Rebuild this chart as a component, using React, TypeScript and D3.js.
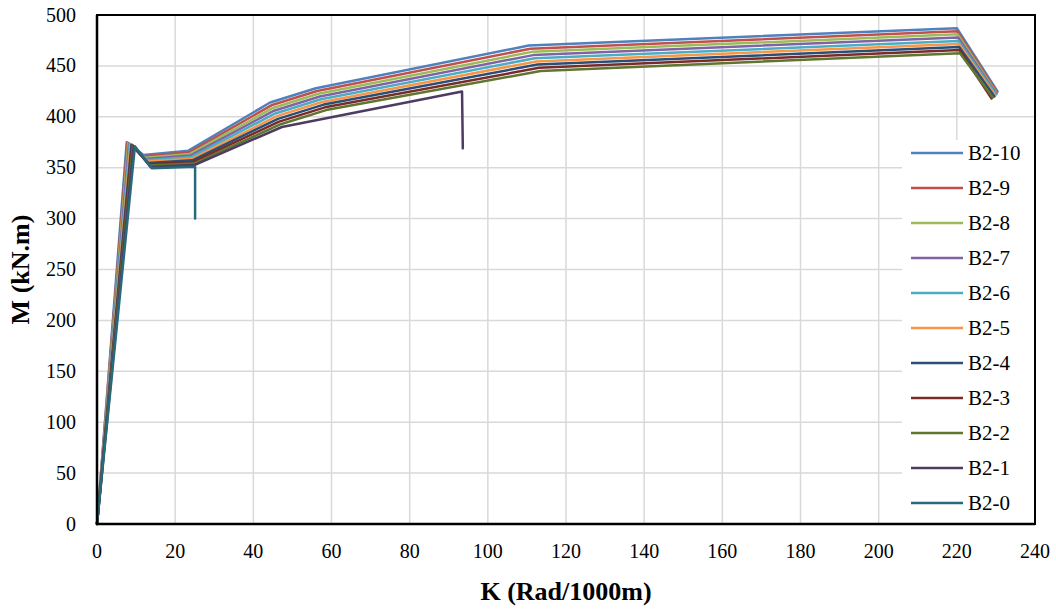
import React from 'react';
import * as d3 from 'd3';

const seriesNames = ['B2-10', 'B2-9', 'B2-8', 'B2-7', 'B2-6', 'B2-5', 'B2-4', 'B2-3', 'B2-2', 'B2-1', 'B2-0'];
const seriesColors = ['#4F81BD', '#C0504D', '#9BBB59', '#8064A2', '#4BACC6', '#F79646', '#2C4D75', '#772C2A', '#5F7530', '#4D3B62', '#276A7C'];

const kB2_10 = [0, 7.6, 11.9, 23.4, 44.3, 56.0, 110.5, 220.0, 230.4];
const mB2_10 = [0, 375, 362.5, 366.7, 414, 428, 470, 487, 425];
const kB2_9 = [0, 7.8, 12.1, 23.6, 44.6, 56.3, 110.9, 220.1, 230.3];
const mB2_9 = [0, 374.6, 361.2, 365.1, 411.3, 425.3, 466.9, 484, 424];
const kB2_8 = [0, 8.0, 12.3, 23.8, 45.0, 56.6, 111.3, 220.2, 230.2];
const mB2_8 = [0, 374.2, 359.9, 363.5, 408.7, 422.6, 463.8, 481, 423];
const kB2_7 = [0, 8.2, 12.5, 23.9, 45.3, 57.0, 111.6, 220.3, 230.1];
const mB2_7 = [0, 373.8, 358.6, 362, 406, 420, 460.6, 478, 422.5];
const kB2_6 = [0, 8.4, 12.7, 24.1, 45.6, 57.3, 112.0, 220.4, 230.0];
const mB2_6 = [0, 373.4, 357.3, 360.4, 403.3, 417.3, 457.5, 474.5, 422];
const kB2_5 = [0, 8.6, 12.9, 24.3, 46.0, 57.6, 112.4, 220.5, 229.8];
const mB2_5 = [0, 373, 356, 358.8, 400.7, 414.6, 454.4, 471.5, 421];
const kB2_4 = [0, 8.8, 13.1, 24.4, 46.3, 58.0, 112.7, 220.6, 229.6];
const mB2_4 = [0, 372.6, 354.7, 357.3, 398, 412, 451.3, 468.5, 420];
const kB2_3 = [0, 9.0, 13.3, 24.6, 46.6, 58.3, 113.1, 220.7, 228.9];
const mB2_3 = [0, 372.2, 353.4, 355.7, 395.3, 409.3, 448.1, 465.5, 418];
const kB2_2 = [0, 9.2, 13.5, 24.8, 47.0, 58.6, 113.5, 220.8, 229.2];
const mB2_2 = [0, 371.8, 352.1, 354.1, 392.7, 406.6, 445, 462.5, 419];
const kB2_1 = [0, 9.4, 13.7, 24.9, 47.3, 93.4, 93.6];
const mB2_1 = [0, 371.4, 350.8, 352.6, 390, 424.8, 369];
const kB2_0 = [0, 9.7, 14.0, 25.1, 25.1];
const mB2_0 = [0, 371, 349.5, 351, 300];

const seriesK = [kB2_10, kB2_9, kB2_8, kB2_7, kB2_6, kB2_5, kB2_4, kB2_3, kB2_2, kB2_1, kB2_0];
const seriesM = [mB2_10, mB2_9, mB2_8, mB2_7, mB2_6, mB2_5, mB2_4, mB2_3, mB2_2, mB2_1, mB2_0];

const xTicks = [0, 20, 40, 60, 80, 100, 120, 140, 160, 180, 200, 220, 240];
const yTicks = [0, 50, 100, 150, 200, 250, 300, 350, 400, 450, 500];

const xTitle = 'K (Rad/1000m)';
const yTitle = 'M (kN.m)';

const FONT = '"Liberation Serif", "DejaVu Serif", serif';

export default function App() {
  const W = 1056, H = 610;
  const left = 97, right = 1035, top = 15, bottom = 524;
  const x = d3.scaleLinear().domain([0, 240]).range([left, right]);
  const y = d3.scaleLinear().domain([0, 500]).range([bottom, top]);
  const line = d3.line<[number, number]>().x(d => x(d[0])).y(d => y(d[1]));

  const legX = 902, legY = 140, legW = right - legX, legH = bottom - legY;
  const legRow = 35, legFirst = 153;

  return (
    <svg width={W} height={H} style={{ position: 'absolute', left: 0, top: 0, background: '#fff' }}>
      <rect x={0} y={0} width={W} height={H} fill="#fff" />
      {xTicks.map(t => (
        <line key={'gx' + t} x1={x(t)} x2={x(t)} y1={top} y2={bottom} stroke="#d9d9d9" strokeWidth={1.5} />
      ))}
      {yTicks.map(t => (
        <line key={'gy' + t} x1={left} x2={right} y1={y(t)} y2={y(t)} stroke="#d9d9d9" strokeWidth={1.5} />
      ))}
      {seriesNames.map((n, i) => {
        const pts: [number, number][] = seriesK[i].map((k, j) => [k, seriesM[i][j]]);
        return (
          <path key={n} d={line(pts) || ''} fill="none" stroke={seriesColors[i]} strokeWidth={2.5} strokeLinejoin="round" strokeLinecap="round" />
        );
      })}
      <rect x={legX} y={legY} width={legW} height={legH} fill="#fff" />
      {seriesNames.map((n, i) => (
        <g key={'lg' + n}>
          <line x1={911} x2={963} y1={legFirst + i * legRow} y2={legFirst + i * legRow} stroke={seriesColors[i]} strokeWidth={2.5} />
          <text x={968} y={legFirst + i * legRow + 7} fontFamily={FONT} fontSize={21} fill="#000">{n}</text>
        </g>
      ))}
      <rect x={left} y={top} width={right - left} height={bottom - top} fill="none" stroke="#000" strokeWidth={2} />
      <line x1={left} x2={left} y1={top} y2={bottom} stroke="#000" strokeWidth={2.5} />
      <line x1={left} x2={right} y1={bottom} y2={bottom} stroke="#000" strokeWidth={2.5} />
      {xTicks.map(t => (
        <text key={'tx' + t} x={x(t)} y={558} textAnchor="middle" fontFamily={FONT} fontSize={20} fill="#000">{t}</text>
      ))}
      {yTicks.map(t => (
        <text key={'ty' + t} x={76} y={y(t) + 6.5} textAnchor="end" fontFamily={FONT} fontSize={20} fill="#000">{t}</text>
      ))}
      <text x={566} y={600} textAnchor="middle" fontFamily={FONT} fontSize={26} fontWeight="bold" fill="#000">{xTitle}</text>
      <text transform={`translate(29, ${(top + bottom) / 2}) rotate(-90)`} textAnchor="middle" fontFamily={FONT} fontSize={26} fontWeight="bold" fill="#000">{yTitle}</text>
    </svg>
  );
}
